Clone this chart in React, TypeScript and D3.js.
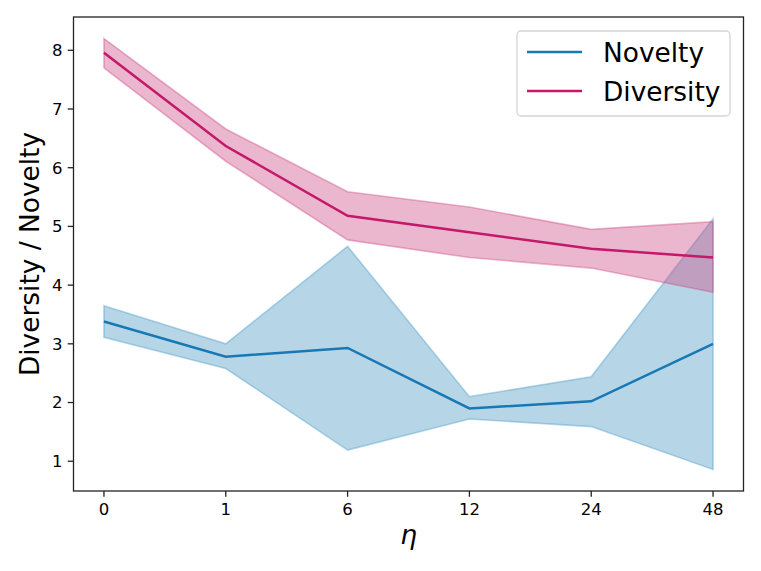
import React from "react";
import * as d3 from "d3";

const categories = ["0", "1", "6", "12", "24", "48"];
const noveltyMean = [3.38, 2.78, 2.93, 1.9, 2.02, 3.0];
const noveltyUpper = [3.65, 3.0, 4.66, 2.1, 2.44, 5.13];
const noveltyLower = [3.11, 2.58, 1.19, 1.72, 1.59, 0.86];
const diversityMean = [7.96, 6.37, 5.18, 4.9, 4.62, 4.47];
const diversityUpper = [8.2, 6.66, 5.59, 5.33, 4.95, 5.08];
const diversityLower = [7.7, 6.11, 4.77, 4.47, 4.29, 3.88];
const yTicks = [1, 2, 3, 4, 5, 6, 7, 8];

const W = 761;
const H = 571;
const L = 73.5;
const R = 743.5;
const T = 17;
const B = 491;

const NOV_LINE = "#1878b4";
const NOV_FILL = "rgb(72,152,197)";
const DIV_LINE = "#c4186a";
const DIV_FILL = "rgb(205,75,132)";

export default function App() {
  const allVals = [...noveltyUpper, ...noveltyLower, ...diversityUpper, ...diversityLower];
  const mn = d3.min(allVals)!;
  const mx = d3.max(allVals)!;
  const pad = (mx - mn) * 0.05;
  const y = d3.scaleLinear().domain([mn - pad, mx + pad]).range([B, T]);
  const n = categories.length;
  const x = d3.scaleLinear().domain([-0.25, n - 1 + 0.25]).range([L, R]);

  const line = d3
    .line<number>()
    .x((_, i) => x(i))
    .y((d) => y(d));
  const area = (up: number[], lo: number[]) =>
    d3
      .area<number>()
      .x((_, i) => x(i))
      .y0((_, i) => y(lo[i]))
      .y1((_, i) => y(up[i]))(categories.map((_, i) => i));

  const font = "DejaVu Sans, sans-serif";

  return (
    <svg
      width={W}
      height={H}
      style={{ position: "absolute", left: 0, top: 0, background: "#fff" }}
      fontFamily={font}
    >
      <rect x={0} y={0} width={W} height={H} fill="#fff" />
      <path
        d={area(noveltyUpper, noveltyLower)!}
        fill={NOV_FILL}
        fillOpacity={0.4}
        stroke={NOV_FILL}
        strokeOpacity={0.4}
        strokeWidth={1.6}
      />
      <path d={line(noveltyMean)!} fill="none" stroke={NOV_LINE} strokeWidth={2.5} />
      <path
        d={area(diversityUpper, diversityLower)!}
        fill={DIV_FILL}
        fillOpacity={0.4}
        stroke={DIV_FILL}
        strokeOpacity={0.4}
        strokeWidth={1.6}
      />
      <path d={line(diversityMean)!} fill="none" stroke={DIV_LINE} strokeWidth={2.5} />

      <rect x={L} y={T} width={R - L} height={B - T} fill="none" stroke="#222" strokeWidth={1.3} />

      {yTicks.map((t) => (
        <g key={t}>
          <line x1={L} x2={L - 5.8} y1={y(t)} y2={y(t)} stroke="#222" strokeWidth={1.3} />
          <text x={L - 11} y={y(t)} dy="0.36em" textAnchor="end" fontSize={16.5} fill="#000">
            {t}
          </text>
        </g>
      ))}
      {categories.map((c, i) => (
        <g key={c}>
          <line x1={x(i)} x2={x(i)} y1={B} y2={B + 5.8} stroke="#222" strokeWidth={1.3} />
          <text x={x(i)} y={B + 24} textAnchor="middle" fontSize={16.5} fill="#000">
            {c}
          </text>
        </g>
      ))}

      <text
        x={(L + R) / 2}
        y={544}
        textAnchor="middle"
        fontSize={26.4}
        fontStyle="italic"
        fill="#000"
      >
        η
      </text>
      <text
        transform={`translate(39, ${(T + B) / 2}) rotate(-90)`}
        textAnchor="middle"
        fontSize={26.4}
        fill="#000"
      >
        Diversity / Novelty
      </text>

      <rect x={517} y={31} width={213} height={85} rx={4} fill="#fff" fillOpacity={0.8} stroke="#d5d5d5" strokeWidth={1.3} />
      <line x1={527} x2={582} y1={52} y2={52} stroke={NOV_LINE} strokeWidth={2.5} />
      <text x={603} y={52} dy="0.36em" fontSize={26.4} fill="#000">
        Novelty
      </text>
      <line x1={527} x2={582} y1={91} y2={91} stroke={DIV_LINE} strokeWidth={2.5} />
      <text x={603} y={91} dy="0.36em" fontSize={26.4} fill="#000">
        Diversity
      </text>
    </svg>
  );
}
